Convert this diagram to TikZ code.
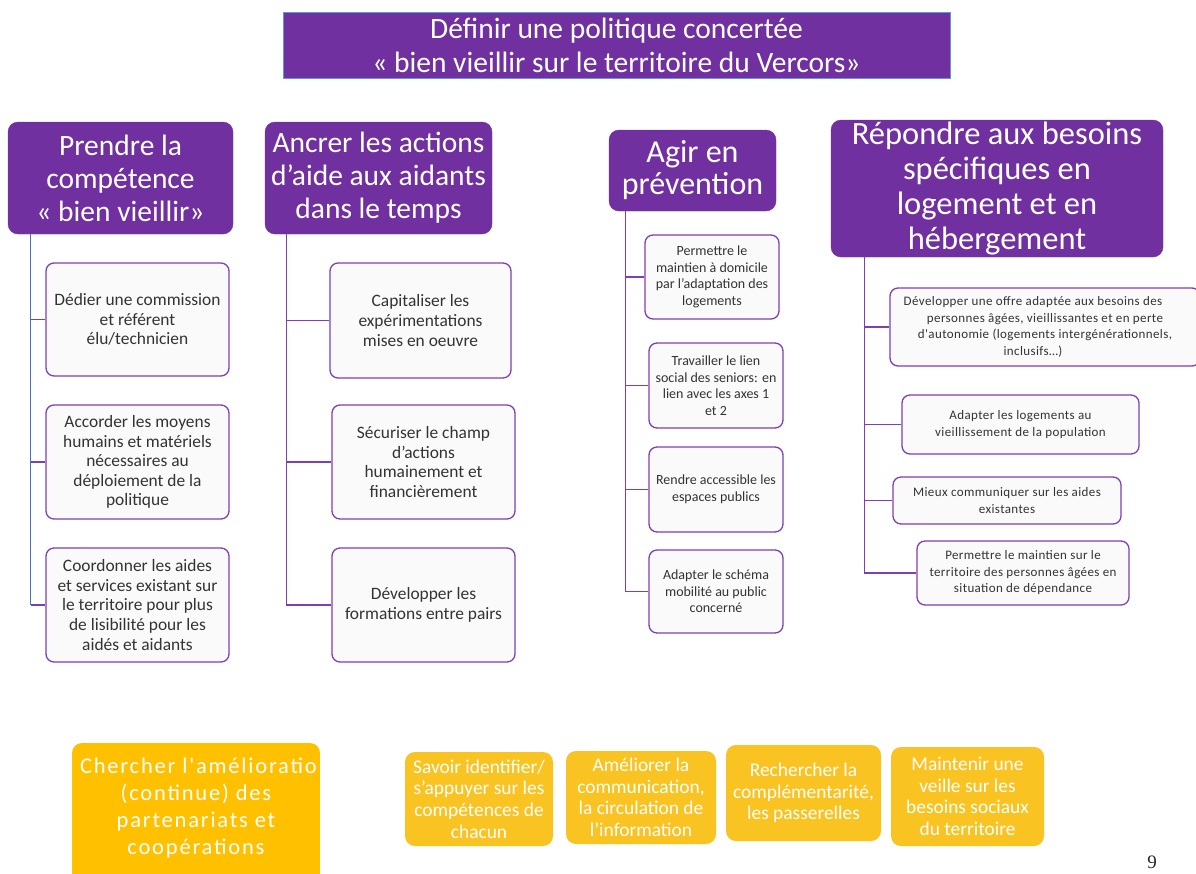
\documentclass[tikz,border=0pt]{standalone}
\usepackage{fontspec}
\setmainfont{Carlito}
\newfontfamily\numfont{Liberation Serif}
\newfontfamily\widefont[LetterSpace=8]{Carlito}
\newfontfamily\loosefont[LetterSpace=3]{Carlito}
\definecolor{hpurple}{HTML}{7030A0}
\definecolor{cpurple}{HTML}{7E3FB5}
\definecolor{cfill}{HTML}{FAFAFA}
\definecolor{ctext}{HTML}{333333}
\definecolor{tblue}{HTML}{5B9BD5}
\definecolor{lblue}{HTML}{4472C4}
\definecolor{gold}{HTML}{FFC000}
\definecolor{goldb}{HTML}{F9C322}
\begin{document}
\begin{tikzpicture}[x=1pt,y=-1pt,
  titlebox/.style={fill=hpurple, draw=tblue, line width=1pt, text=white, align=center, inner sep=0pt,
    font=\fontsize{29.5}{34}\selectfont},
  head/.style={fill=hpurple, draw=hpurple, rounded corners=10pt, text=white, align=center, inner sep=0pt},
  child/.style={fill=cfill, draw=cpurple, line width=1.3pt, rounded corners=8pt, text=ctext, align=center, inner sep=0pt},
  bigchild/.style={child, font=\fontsize{17.4}{19.6}\selectfont},
  smallchild/.style={child, font=\fontsize{14}{16.6}\selectfont},
  widechild/.style={child, font=\loosefont\fontsize{13}{16.5}\selectfont},
  goldbox/.style={fill=goldb, draw=none, rounded corners=10pt, text=white, align=center, inner sep=0pt,
    font=\fontsize{19.4}{21.6}\selectfont},
  conn/.style={draw=cpurple, line width=1.3pt},
  bconn/.style={draw=lblue, line width=1.3pt}]
\useasboundingbox (0,0) rectangle (1196,873);
\fill[white] (0,0) rectangle (1196,873);

% title
\node[titlebox, minimum width=667pt, minimum height=66pt] (title) at (616.5,45)
  {Définir une politique concertée\\« bien vieillir sur le territoire du Vercors»};

% axis headers
\node[head, minimum width=225pt, minimum height=112pt, font=\fontsize{29.5}{33}\selectfont] (h1) at (120.5,178)
  {Prendre la\\compétence\\« bien vieillir»};
\node[head, minimum width=227pt, minimum height=112pt, font=\fontsize{29.5}{33}\selectfont] (h2) at (378.5,178)
  {Ancrer les actions\\d’aide aux aidants\\dans le temps};
\node[head, minimum width=167pt, minimum height=81pt, font=\fontsize{32}{32}\selectfont] (h3) at (692.5,170.5)
  {Agir en\\prévention};
\node[head, minimum width=332pt, minimum height=137pt, font=\fontsize{32.5}{35}\selectfont] (h4) at (997,188.5)
  {Répondre aux besoins\\spécifiques en\\logement et en\\hébergement};

% axis 1
\node[bigchild, minimum width=183pt, minimum height=113pt] (a1) at (137.5,319.5)
  {Dédier une commission\\et référent\\élu/technicien};
\node[bigchild, minimum width=183pt, minimum height=114pt] (a2) at (137.5,462)
  {Accorder les moyens\\humains et matériels\\nécessaires au\\déploiement de la\\politique};
\node[bigchild, minimum width=183pt, minimum height=114pt] (a3) at (137.5,605)
  {Coordonner les aides\\et services existant sur\\le territoire pour plus\\de lisibilité pour les\\aidés et aidants};

% axis 2
\node[bigchild, minimum width=181pt, minimum height=115pt] (b1) at (420.5,320.5)
  {Capitaliser les\\expérimentations\\mises en oeuvre};
\node[bigchild, minimum width=183pt, minimum height=114pt] (b2) at (423.5,462)
  {Sécuriser le champ\\d'actions\\humainement et\\financièrement};
\node[bigchild, minimum width=183pt, minimum height=114pt] (b3) at (423.5,605)
  {Développer les\\formations entre pairs};

% axis 3
\node[smallchild, minimum width=134pt, minimum height=84pt] (c1) at (712,277)
  {Permettre le\\maintien à domicile\\par l’adaptation des\\logements};
\node[smallchild, minimum width=134pt, minimum height=85pt] (c2) at (716,385.5)
  {Travailler le lien\\social des seniors: en\\lien avec les axes 1\\et 2};
\node[smallchild, minimum width=134pt, minimum height=85pt] (c3) at (716,489.5)
  {Rendre accessible les\\espaces publics};
\node[smallchild, minimum width=134pt, minimum height=83pt] (c4) at (716,591.5)
  {Adapter le schéma\\mobilité au public\\concerné};

% axis 4
\node[widechild, minimum width=310pt, minimum height=78pt] (d1) at (1045,327)
  {Développer une offre adaptée aux besoins des\hspace*{24pt}\\personnes âgées, vieillissantes et en perte\hspace*{24pt}\\d'autonomie (logements intergénérationnels,\hspace*{24pt}\\inclusifs…)\hspace*{24pt}};
\node[widechild, minimum width=237pt, minimum height=59pt] (d2) at (1020.5,424.5)
  {Adapter les logements au\\vieillissement de la population};
\node[widechild, minimum width=228pt, minimum height=47pt] (d3) at (1007,500.5)
  {Mieux communiquer sur les aides\\existantes};
\node[widechild, minimum width=212pt, minimum height=64pt] (d4) at (1023,573)
  {Permettre le maintien sur le\\territoire des personnes âgées en\\situation de dépendance};

% tree connectors
\coordinate (v1) at ([xshift=23pt]h1.south west);
\coordinate (v2) at ([xshift=22pt]h2.south west);
\coordinate (v3) at ([xshift=17pt]h3.south west);
\coordinate (v4) at ([xshift=34pt]h4.south west);

\draw[bconn] (v1) -- (v1 |- a3.west);
\foreach \n in {a1,a2,a3} \draw[conn] (v1 |- \n.west) -- (\n.west);

\draw[conn] (v2) -- (v2 |- b3.west) -- (b3.west);
\foreach \n in {b1,b2} \draw[conn] (v2 |- \n.west) -- (\n.west);

\draw[conn] (v3) -- (v3 |- c4.west) -- (c4.west);
\foreach \n in {c1,c2,c3} \draw[conn] (v3 |- \n.west) -- (\n.west);

\draw[conn] (v4) -- (v4 |- d4.west) -- (d4.west);
\foreach \n in {d1,d2,d3} \draw[conn] (v4 |- \n.west) -- (\n.west);

% cross-cutting goals
\begin{scope}
  \clip[rounded corners=10pt] (72,743) rectangle (320,890);
  \node[fill=gold, draw=none, minimum width=248pt, minimum height=147pt, inner sep=0pt] (e0) at (196,816.5) {};
  \node[text=white, align=center, inner sep=0pt, font=\widefont\fontsize{22.5}{27}\selectfont] (e0t) at (196,807.5)
    {\makebox[232pt][l]{Chercher l'amélioration}\\(continue) des\\partenariats et\\coopérations};
\end{scope}
\node[goldbox, minimum width=148pt, minimum height=94pt] (e1) at (479,799)
  {Savoir identifier/\\s'appuyer sur les\\compétences de\\chacun};
\node[goldbox, minimum width=150pt, minimum height=93pt] (e2) at (641,797.5)
  {Améliorer la\\communication,\\la circulation de\\l'information};
\node[goldbox, minimum width=155pt, minimum height=96pt] (e3) at (803.5,793)
  {Rechercher la\\complémentarité,\\les passerelles};
\node[goldbox, minimum width=153pt, minimum height=99pt] (e4) at (967.5,796.5)
  {Maintenir une\\veille sur les\\besoins sociaux\\du territoire};

% page number
\node[inner sep=0pt, text=black!85, font=\numfont\fontsize{19}{22}\selectfont] (pg) at (1152,862) {9};
\end{tikzpicture}
\end{document}
